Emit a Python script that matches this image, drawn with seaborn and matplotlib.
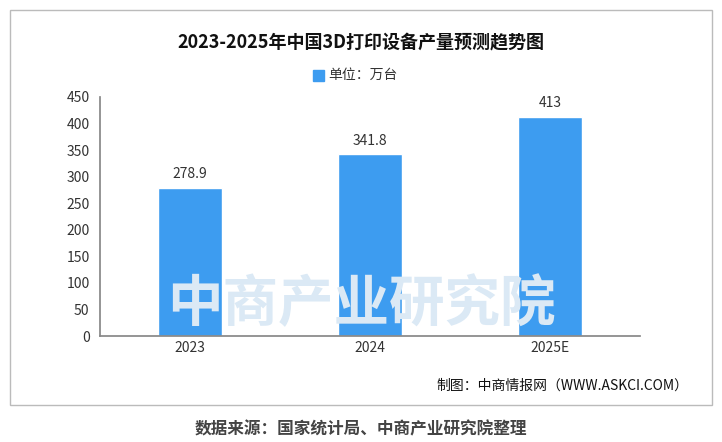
import matplotlib
matplotlib.use('Agg')
import matplotlib.pyplot as plt
import seaborn as sns
import pandas as pd
from matplotlib.patches import Rectangle

years = ['2023', '2024', '2025E']
output = [278.9, 341.8, 413]
yticks = [0, 50, 100, 150, 200, 250, 300, 350, 400, 450]

sns.set_theme(style='white')
plt.rcParams['font.family'] = ['Noto Sans CJK SC', 'DejaVu Sans']

df = pd.DataFrame({'year': years, 'val': output})
fig = plt.figure(figsize=(7.22, 4.42), dpi=100)
ax = fig.add_axes([100/722, 1-336/442, 540/722, 239/442])

# 外框
fig.patches.append(Rectangle((10/722, 1-405/442), 702/722, 395/442, transform=fig.transFigure,
                             fill=False, edgecolor='#bbbbbb', lw=1))

# 水印
fig.text(0.5, 1-305/442, '中商产业研究院', ha='center', va='center', fontsize=40,
         color='#dbe9f5', fontweight='bold', zorder=0)

sns.barplot(data=df, x='year', y='val', color='#3d9cf0', width=0.36, saturation=1, ax=ax, zorder=2)
for i, v in enumerate(output):
    ax.text(i, v + 12, f'{v:g}', ha='center', va='bottom', fontsize=10, color='#333333')

ax.set_ylim(0, 450)
ax.set_yticks(yticks)
ax.set_xlabel('')
ax.set_ylabel('')
ax.tick_params(axis='both', labelsize=10, colors='#333333', length=0)
ax.tick_params(axis='y', length=4)
for s in ['top', 'right']:
    ax.spines[s].set_visible(False)
ax.spines['left'].set_color('#888888')
ax.spines['bottom'].set_color('#888888')
ax.patch.set_alpha(0)

fig.text(0.5, 1-42/442, '2023-2025年中国3D打印设备产量预测趋势图', ha='center', va='center',
         fontsize=13, fontweight='bold', color='#111111')
fig.patches.append(Rectangle((313/722, 1-81/442), 11/722, 11/442, transform=fig.transFigure,
                             color='#3d9cf0'))
fig.text(328/722, 1-75/442, '单位：万台', ha='left', va='center', fontsize=10, color='#333333')
fig.text(688/722, 1-386/442, '制图：中商情报网（WWW.ASKCI.COM）', ha='right', va='center',
         fontsize=10, color='#111111')
fig.text(0.5, 1-429/442, '数据来源：国家统计局、中商产业研究院整理', ha='center', va='center',
         fontsize=12, fontweight='bold', color='#444444')

fig.savefig('out.png', dpi=100)
